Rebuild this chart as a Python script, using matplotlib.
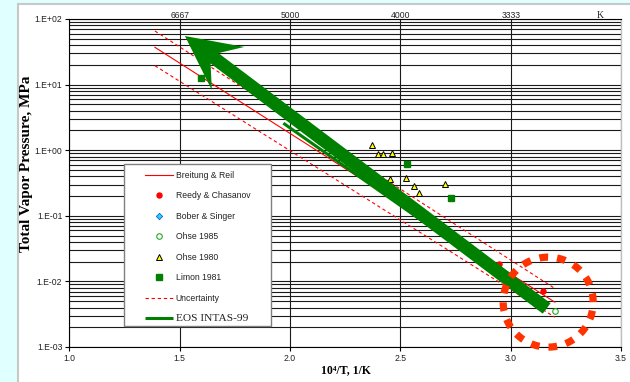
import numpy as np
import matplotlib
matplotlib.use("Agg")
import matplotlib.pyplot as plt
from matplotlib.ticker import LogLocator, FixedLocator, FuncFormatter
from matplotlib.patches import Rectangle, Polygon
from matplotlib.transforms import IdentityTransform

# ---- data: x = 10^4/T [1/K], p = total vapour pressure [MPa] ----
breitung_x = [1.388, 3.200]
breitung_p = [37.0, 0.00483]
unc_upper_x = [1.388, 3.200]
unc_upper_p = [65.6, 0.0078]
unc_lower_x = [1.388, 3.200]
unc_lower_p = [19.4, 0.00285]

reedy_x = [2.947, 3.145]
reedy_p = [0.0186, 0.0071]
bober_x = [2.35, 2.60]
bober_p = [0.445, 0.104]
ohse85_x = [3.199]
ohse85_p = [0.0036]
ohse80_x = [2.371, 2.400, 2.423, 2.464, 2.453, 2.526, 2.562, 2.585, 2.704]
ohse80_p = [1.19, 0.889, 0.889, 0.91, 0.37, 0.378, 0.285, 0.226, 0.303]
limon_x = [1.598, 2.531, 2.731]
limon_p = [12.7, 0.611, 0.185]

eos_x = [1.97, 3.163]
eos_p = [2.58, 0.00387]
# arrow along the EOS INTAS-99 trend (tail, head)
arrow_x = [3.163, 1.524]
arrow_p = [0.00387, 55.0]
# highlighted low-temperature region
focus_x = 3.170
focus_p = 0.00483

x_ticks = [1.0, 1.5, 2.0, 2.5, 3.0, 3.5]
top_ticks = [1.5, 2.0, 2.5, 3.0]

W, H = 630, 382
fig = plt.figure(figsize=(W / 100, H / 100), dpi=100, facecolor="#E0FFFF")
panel = Rectangle((18 / W, -0.02), 1.0, (H - 4) / H + 0.02,
                  transform=fig.transFigure, facecolor="white",
                  edgecolor="#C8C8C8", lw=1.5, zorder=-5)
fig.patches.append(panel)

ax = fig.add_axes([69.3 / W, 35 / H, 551.7 / W, 328 / H])
ax.set_zorder(1)
ax.set_yscale("log")
ax.set_xlim(1.0, 3.5)
ax.set_ylim(1e-3, 1e2)
ax.set_autoscale_on(False)

ax.yaxis.set_major_locator(LogLocator(base=10, numticks=10))
ax.yaxis.set_minor_locator(LogLocator(base=10, subs=np.arange(2, 10), numticks=10))
ax.xaxis.set_major_locator(FixedLocator(x_ticks))
ax.yaxis.set_major_formatter(FuncFormatter(lambda v, p: "1.E%+03d" % int(round(np.log10(v)))))
ax.xaxis.set_major_formatter(FuncFormatter(lambda v, p: "%.1f" % v))
ax.grid(True, which="both", axis="y", color="#1a1a1a", lw=0.8)
ax.grid(True, which="major", axis="x", color="#1a1a1a", lw=0.8)

ax.tick_params(which="major", direction="out", length=3, width=0.8, color="black",
               labelsize=6.2, labelcolor="#222222", pad=2)
ax.tick_params(which="minor", length=0)
for lab in ax.get_xticklabels() + ax.get_yticklabels():
    lab.set_fontfamily("Liberation Sans")
for s in ("left", "bottom", "top"):
    ax.spines[s].set_color("black")
    ax.spines[s].set_linewidth(0.8)
ax.spines["right"].set_color("#C0C0C0")
ax.spines["right"].set_linewidth(1.0)

# temperature scale on top
sec = ax.secondary_xaxis("top")
sec.xaxis.set_major_locator(FixedLocator(top_ticks))
sec.xaxis.set_major_formatter(FuncFormatter(lambda v, p: "%.0f" % (1e4 / v)))
sec.tick_params(length=0, pad=-0.5, labelsize=6.2, labelcolor="#222222")
for lab in sec.get_xticklabels():
    lab.set_fontfamily("Liberation Sans")
sec.spines["top"].set_visible(False)
fig.text(600 / W, 1 - 15 / H, "K", family="Liberation Serif", fontsize=7,
         ha="center", va="center", color="#222222")

# correlation and uncertainty band
l_breit, = ax.plot(breitung_x, breitung_p, color="red", lw=0.8, zorder=3)
l_unc, = ax.plot(unc_upper_x, unc_upper_p, color="red", lw=0.8, ls=(0, (3, 2.5)), zorder=3)
ax.plot(unc_lower_x, unc_lower_p, color="red", lw=0.8, ls=(0, (3, 2.5)), zorder=3)

# measurements
m_reedy, = ax.plot(reedy_x, reedy_p, ls="none", marker="o", ms=3.6, mfc="red", mec="red", zorder=4)
m_bober, = ax.plot(bober_x, bober_p, ls="none", marker="D", ms=3.2, mfc="#33CCFF",
                   mec="#0066CC", mew=0.6, zorder=4)
m_ohse85, = ax.plot(ohse85_x, ohse85_p, ls="none", marker="o", ms=4.0, mfc="white",
                    mec="#22AA22", mew=0.8, zorder=4)
m_ohse80, = ax.plot(ohse80_x, ohse80_p, ls="none", marker="^", ms=5.0, mfc="#FFFF00",
                    mec="black", mew=0.7, zorder=4)
m_limon, = ax.plot(limon_x, limon_p, ls="none", marker="s", ms=4.2, mfc="#008000",
                   mec="#008000", zorder=4)

# EOS INTAS-99 curve and trend arrow
l_eos, = ax.plot(eos_x, eos_p, color="#008000", lw=2.2, zorder=4.5, solid_capstyle="butt")

tail = ax.transData.transform((arrow_x[0], arrow_p[0]))
head = ax.transData.transform((arrow_x[1], arrow_p[1]))
vec = head - tail
L = np.hypot(*vec)
d = vec / L
n = np.array([-d[1], d[0]])
shaft_hw, head_hw, notch_back, wing_back = 6.5, 27.0, 37.0, 54.0
local = [(0, -shaft_hw), (L - notch_back, -shaft_hw), (L - wing_back, -head_hw), (L, 0),
         (L - wing_back, head_hw), (L - notch_back, shaft_hw), (0, shaft_hw)]
pts = np.array([tail + u * d + v * n for u, v in local])
ax.add_patch(Polygon(pts, closed=True, transform=IdentityTransform(), facecolor="#008000",
                     edgecolor="none", zorder=5, clip_on=False))

# dotted ring around the low-temperature end
cx, cy = ax.transData.transform((focus_x, focus_p))
t = np.linspace(0, 2 * np.pi, 400)
r = 45.0
ax.plot(cx + r * np.cos(t), cy + r * np.sin(t), transform=IdentityTransform(),
        color="#FF3300", lw=5.2, ls=(0, (1.2, 1.25)), dash_capstyle="butt",
        zorder=6, clip_on=False)

# legend box
ax.add_patch(Rectangle((124.3 / W, 1 - 325.7 / H), 146.7 / W, 161.4 / H,
                       transform=fig.transFigure, facecolor="white", edgecolor="#808080",
                       lw=1.0, zorder=7))
handles = [l_breit, m_reedy, m_bober, m_ohse85, m_ohse80, m_limon, l_unc, l_eos]
labels = ["Breitung & Reil", "Reedy & Chasanov", "Bober & Singer", "Ohse 1985",
          "Ohse 1980", "Limon 1981", "Uncertainty", "EOS INTAS-99"]
leg = ax.legend(handles, labels, loc="upper left", bbox_to_anchor=(145 / W, 1 - 171 / H),
                bbox_transform=fig.transFigure, frameon=False, borderpad=0,
                borderaxespad=0, handlelength=3.25, handletextpad=0.3, labelspacing=1.33,
                prop={"family": "Liberation Sans", "size": 6.2})
leg.set_zorder(8)
for txt in leg.get_texts():
    txt.set_color("#222222")
leg.get_texts()[-1].set_fontfamily("Liberation Serif")
leg.get_texts()[-1].set_fontsize(8.2)

# axis titles
fig.text(27 / W, 1 - 164 / H, "Total Vapor Pressure, MPa", family="Liberation Serif",
         fontweight="bold", fontsize=11, rotation=90, ha="center", va="center")
fig.text(346 / W, 1 - 370 / H, "10\u2074/T, 1/K", family=["Liberation Serif", "DejaVu Serif"],
         fontweight="bold", fontsize=8.5, ha="center", va="center")

fig.savefig("out.png", dpi=100, facecolor=fig.get_facecolor())
